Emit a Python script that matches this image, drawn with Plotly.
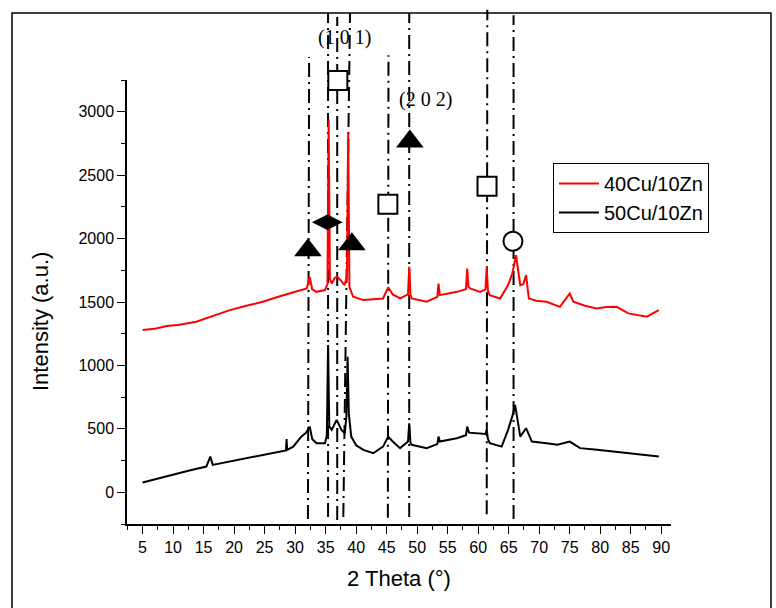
import plotly.graph_objects as go

# ---------------- data ----------------
red_x = [5, 7, 9, 11, 13.8, 16, 19.3, 22, 24.7, 27.5, 30.2, 31.9, 32.4, 32.8, 33.5, 34.9,
         35.3, 35.5, 35.7, 36.0, 36.5, 36.9, 37.5, 38.1, 38.5, 38.7, 38.9, 39.5, 41.2, 43.0,
         44.4, 45.25, 46.0, 47.2, 48.5, 48.7, 48.9, 49.1, 50.5, 51.55, 53.3, 53.5, 53.7, 55.0,
         56.5, 58.0, 58.2, 58.4, 58.7, 60.3, 61.2, 61.4, 61.6, 61.9, 63.6, 64.9, 65.6, 66.2,
         66.9, 67.4, 67.85, 68.3, 69.5, 71.2, 73.4, 75.0, 75.6, 77.5, 79.4, 81.0, 82.7, 84.6,
         86.0, 87.65, 89.0, 89.6]
red_y = [1279, 1290, 1310, 1320, 1344, 1380, 1436, 1470, 1502, 1545, 1580, 1607, 1698, 1600, 1580, 1594,
         1640, 2931, 1680, 1646, 1690, 1698, 1670, 1633, 1700, 2839, 1620, 1541, 1515, 1520,
         1528, 1615, 1560, 1528, 1560, 1777, 1560, 1528, 1510, 1502, 1540, 1646, 1554, 1565,
         1580, 1600, 1764, 1620, 1607, 1580, 1600, 1777, 1590, 1554, 1528, 1633, 1725, 1869,
         1633, 1640, 1712, 1528, 1510, 1502, 1462, 1567, 1502, 1470, 1449, 1460, 1462, 1410,
         1400, 1384, 1420, 1436]

black_x = [5, 8, 11.1, 13, 15.45, 16.1, 16.5, 19, 22, 25, 27.5, 28.5, 28.6, 28.7, 29.7, 31.0,
           31.8, 32.4, 32.8, 33.5, 34.9, 35.2, 35.4, 35.6, 36.0, 36.8, 37.6, 38.15, 38.4, 38.6,
           38.8, 39.2, 40.0, 41.2, 42.8, 44.4, 45.25, 46.0, 47.2, 48.5, 48.7, 48.9, 49.1, 50.5,
           51.55, 53.3, 53.5, 53.7, 55.0, 56.5, 58.0, 58.2, 58.5, 59.8, 61.2, 61.4, 61.6, 61.9,
           63.85, 64.9, 65.6, 66.05, 66.5, 66.9, 67.85, 68.8, 71.2, 73.0, 75.0, 76.7, 79.5, 82.2,
           84.5, 86.55, 88.5, 89.6]
black_y = [77, 115, 151, 175, 203, 282, 216, 240, 269, 295, 321, 330, 419, 335, 360, 439,
           470, 518, 420, 387, 387, 450, 1161, 520, 492, 571, 492, 466, 600, 1069,
           620, 439, 370, 334, 308, 360, 439, 400, 348, 400, 544, 390, 374, 360,
           348, 380, 439, 400, 410, 426, 450, 518, 470, 466, 460, 492, 420, 387,
           360, 492, 600, 689, 540, 439, 505, 400, 387, 375, 400, 348, 335, 321,
           305, 295, 285, 282]

series_names = ["40Cu/10Zn", "50Cu/10Zn"]

# reference (dash-dot) lines: x at top, x at bottom
ref_x_top = [32.3, 35.4, 36.9, 39.0, 45.3, 48.7, 61.5, 65.8]
ref_x_bot = [32.1, 35.4, 36.9, 37.9, 45.2, 48.7, 61.4, 65.8]

# phase markers
tri_x = [32.1, 39.3, 48.8]
tri_y = [1908, 1956, 2766]
dia_x = [35.28]
dia_y = [2129]
sq_x = [45.2, 37.0, 61.45]
sq_y = [2270, 3246, 2412]
circ_x = [65.7]
circ_y = [1979]

hkl_labels = ["(1 0 1)", "(2 0 2)"]
hkl_x = [38.15, 51.3]
hkl_paper_y = [1.095, 0.955]

x_title = "2 Theta (°)"
y_title = "Intensity (a.u.)"

# ---------------- figure ----------------
fig = go.Figure()

fig.add_trace(go.Scatter(x=red_x, y=red_y, mode="lines", name=series_names[0],
                         line=dict(color="#ff0000", width=2)))
fig.add_trace(go.Scatter(x=black_x, y=black_y, mode="lines", name=series_names[1],
                         line=dict(color="#000000", width=2)))

fig.add_trace(go.Scatter(x=tri_x, y=tri_y, mode="markers", showlegend=False, cliponaxis=False,
                         marker=dict(symbol="triangle-up", size=24, color="black")))
fig.add_trace(go.Scatter(x=dia_x, y=dia_y, mode="markers", showlegend=False, cliponaxis=False,
                         marker=dict(symbol="diamond-wide", size=22, color="black")))
fig.add_trace(go.Scatter(x=sq_x, y=sq_y, mode="markers", showlegend=False, cliponaxis=False,
                         marker=dict(symbol="square", size=19, color="white",
                                     line=dict(color="black", width=2))))
fig.add_trace(go.Scatter(x=circ_x, y=circ_y, mode="markers", showlegend=False, cliponaxis=False,
                         marker=dict(symbol="circle", size=19, color="white",
                                     line=dict(color="black", width=2))))

# paper-y extents of the dash-dot lines (top, bottom)
line_top = [1.052, 1.151, 1.142, 1.151, 1.056, 1.151, 1.158, 1.146]
line_bot = [0.011, 0.016, 0.009, 0.016, 0.014, 0.016, 0.022, 0.011]
shapes = []
for xt, xb, yt, yb in zip(ref_x_top, ref_x_bot, line_top, line_bot):
    shapes.append(dict(type="line", xref="x", yref="paper", x0=xb, x1=xt, y0=yb, y1=yt,
                       line=dict(color="black", width=2, dash="14px,5px,2px,5px"),
                       layer="below"))
# outer frame
shapes.append(dict(type="rect", xref="paper", yref="paper", x0=-0.2114, x1=1.1838,
                   y0=-0.25, y1=1.151, line=dict(color="black", width=1.5), layer="below"))

annotations = []
for t, ax_, ay_ in zip(hkl_labels, hkl_x, hkl_paper_y):
    annotations.append(dict(x=ax_, y=ay_, xref="x", yref="paper", text=t, showarrow=False,
                            xanchor="center", yanchor="middle",
                            font=dict(family="Liberation Serif", size=20, color="black")))
# y-axis title (placed slightly below centre as in the reference)
annotations.append(dict(x=-0.158, y=0.455, xref="paper", yref="paper", text=y_title,
                        showarrow=False, textangle=-90, xanchor="center", yanchor="middle",
                        font=dict(family="Liberation Sans, Arial", size=22, color="black")))

fig.update_layout(
    width=776, height=608,
    margin=dict(l=127, r=105, t=80, b=84),
    paper_bgcolor="white", plot_bgcolor="white",
    font=dict(family="Liberation Sans, Arial", color="black", size=16),
    shapes=shapes, annotations=annotations,
    legend=dict(x=0.783, y=0.813, xanchor="left", yanchor="top",
                bordercolor="black", borderwidth=1, bgcolor="white",
                font=dict(size=20, family="Liberation Sans, Arial"),
                tracegroupgap=0, itemwidth=40),
    showlegend=True,
)
fig.update_xaxes(range=[2.45, 91.6], tick0=5, dtick=5, ticks="outside", ticklen=8,
                 tickwidth=1.2, tickcolor="black", showline=True, linecolor="black",
                 linewidth=1.5, showgrid=False, zeroline=False,
                 minor=dict(ticks="outside", ticklen=4, dtick=2.5, tick0=5, tickcolor="black", showgrid=False),
                 title=dict(text=x_title, font=dict(size=22), standoff=16),
                 tickfont=dict(size=16))
fig.update_yaxes(range=[-250, 3250], tick0=0, dtick=500, ticks="outside", ticklen=8,
                 tickwidth=1.2, tickcolor="black", showline=True, linecolor="black",
                 linewidth=1.5, showgrid=False, zeroline=False,
                 minor=dict(ticks="outside", ticklen=4, dtick=250, tick0=0, tickcolor="black", showgrid=False),
                 tickfont=dict(size=16), ticklabelstandoff=0)

fig.write_html("out.html")
